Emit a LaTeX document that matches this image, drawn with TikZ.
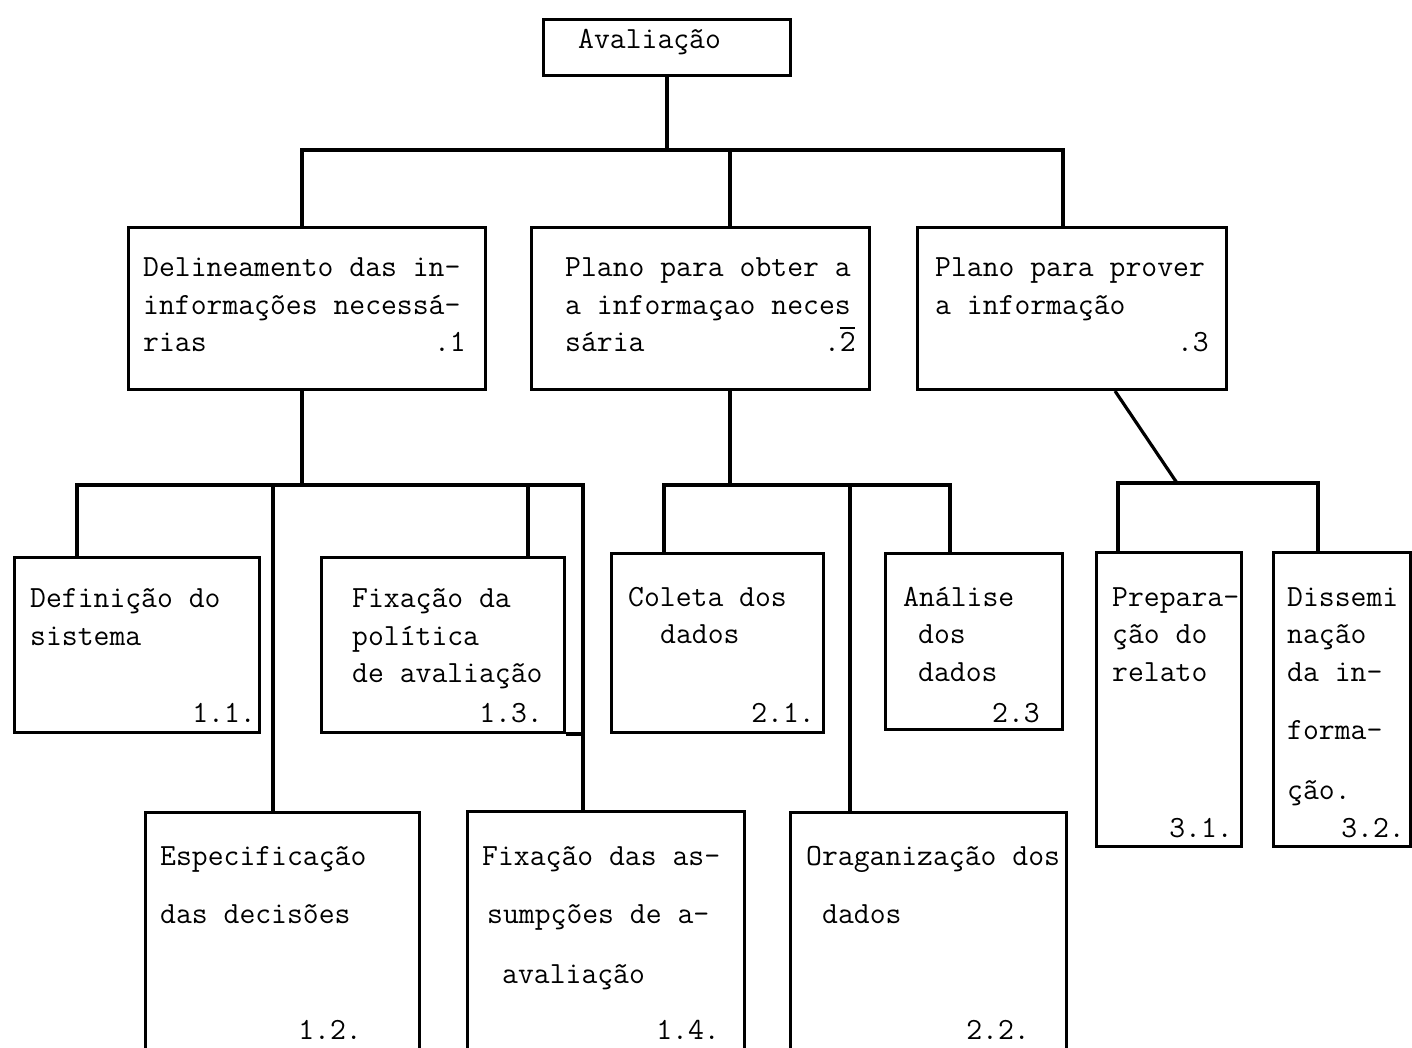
\documentclass[tikz,border=0pt]{standalone}
\usetikzlibrary{calc}
% typewriter face used for every label
\newcommand{\twfont}{\ttfamily\fontsize{30.8}{37}\selectfont}
\begin{document}
\begin{tikzpicture}[x=1pt,y=-1pt,
  box/.style={draw, line width=3pt, rectangle, inner sep=0pt, anchor=north west},
  link/.style={line width=3.2pt},
  ln/.style={anchor=base west, inner sep=0pt, font=\twfont},
  num/.style={anchor=base east, inner sep=0pt, font=\twfont}]

\useasboundingbox (0,0) rectangle (1412,1048);
\fill[white] (0,0) rectangle (1412,1048);
\clip (0,0) rectangle (1412,1048);

% ---------- boxes ----------
\node[box, minimum width=247pt, minimum height=56pt]  (top) at (542,18) {};
\node[box, minimum width=357pt, minimum height=162pt] (b1)  at (127,226) {};
\node[box, minimum width=338pt, minimum height=162pt] (b2)  at (530,226) {};
\node[box, minimum width=309pt, minimum height=162pt] (b3)  at (916,226) {};

\node[box, minimum width=245pt, minimum height=175pt] (c11) at (13,556) {};
\node[box, minimum width=243pt, minimum height=175pt] (c13) at (320,556) {};
\node[box, minimum width=274pt, minimum height=260pt] (c12) at (144,811) {};
\node[box, minimum width=277pt, minimum height=260pt] (c14) at (466,810) {};

\node[box, minimum width=212pt, minimum height=179pt] (c21) at (610,552) {};
\node[box, minimum width=177pt, minimum height=176pt] (c23) at (884,552) {};
\node[box, minimum width=276pt, minimum height=260pt] (c22) at (789,811) {};

\node[box, minimum width=145pt, minimum height=294pt] (c31) at (1095,551) {};
\node[box, minimum width=137pt, minimum height=294pt] (c32) at (1272,551) {};

% ---------- first level ----------
\coordinate (bus0) at (665,150);
\coordinate (p1) at ($(b1.north west)+(175,0)$);
\coordinate (p2) at ($(b2.north west)+(200,0)$);
\coordinate (p3) at ($(b3.north west)+(147,0)$);
\draw[link] (top.south) -- (top.south |- bus0);
\draw[link] (p1) -- (p1 |- bus0) -- (p3 |- bus0) -- (p3);
\draw[link] (p2) -- (p2 |- bus0);

% ---------- branch .1 ----------
\coordinate (bus1) at (302,485);
\coordinate (q1)  at ($(b1.south west)+(175,0)$);
\coordinate (d11) at ($(c11.north west)+(64,0)$);
\coordinate (d13) at ($(c13.north west)+(208,0)$);
\coordinate (d12) at ($(c12.north west)+(129,0)$);
\coordinate (d14) at ($(c14.north west)+(117,0)$);
\draw[link] (q1) -- (q1 |- bus1);
\draw[link] (d11) -- (d11 |- bus1) -- (d14 |- bus1) -- (d14);
\draw[link] (d12) -- (d12 |- bus1);
\draw[link] (d13) -- (d13 |- bus1);
\draw[link] (c13.south east) -- (c13.south east -| d14);

% ---------- branch .2 ----------
\coordinate (bus2) at (730,485);
\coordinate (q2)  at ($(b2.south west)+(200,0)$);
\coordinate (d21) at ($(c21.north west)+(54,0)$);
\coordinate (d23) at ($(c23.north west)+(66,0)$);
\coordinate (d22) at ($(c22.north west)+(61,0)$);
\draw[link] (q2) -- (q2 |- bus2);
\draw[link] (d21) -- (d21 |- bus2) -- (d23 |- bus2) -- (d23);
\draw[link] (d22) -- (d22 |- bus2);

% ---------- branch .3 ----------
\coordinate (bus3) at (1177,483);
\coordinate (q3)  at ($(b3.south west)+(199,0)$);
\coordinate (d31) at ($(c31.north west)+(23,0)$);
\coordinate (d32) at ($(c32.north west)+(46,0)$);
\draw[link] (q3) -- (bus3);
\draw[link] (d31) -- (d31 |- bus3) -- (d32 |- bus3) -- (d32);

% ---------- labels ----------
\node[ln] (tA) at (578,49) {Avaliação};

\node[ln] (t1a) at (143,277) {Delineamento das in-};
\node[ln] (t1b) at (143,314) {informações necessá-};
\node[ln] (t1c) at (143,351) {rias};
\node[num] (n1) at (466,351) {.1};

\node[ln] (t2a) at (565,277) {Plano para obter a};
\node[ln] (t2b) at (565,314) {a informaçao neces};
\node[ln] (t2c) at (565,351) {sária};
\node[num] (n2) at (856,351) {.\rlap{\rule[0.72em]{0.5em}{1.6pt}}2};

\node[ln] (t3a) at (935,277) {Plano para prover};
\node[ln] (t3b) at (935,314) {a informação};
\node[num] (n3) at (1209,351) {.3};

\node[ln] (t11a) at (30,607) {Definição do};
\node[ln] (t11b) at (30,645) {sistema};
\node[num] (n11) at (256,722) {1.1.};

\node[ln] (t13a) at (352,607) {Fixação da};
\node[ln] (t13b) at (352,645) {política};
\node[ln] (t13c) at (352,682) {de avaliação};
\node[num] (n13) at (543,722) {1.3.};

\node[ln] (t12a) at (160,865) {Especificação};
\node[ln] (t12b) at (160,923) {das decisões};
\node[num] (n12) at (362,1039) {1.2.};

\node[ln] (t14a) at (482,865) {Fixação das as-};
\node[ln] (t14b) at (487,923) {sumpções de a-};
\node[ln] (t14c) at (502,983) {avaliação};
\node[num] (n14) at (720,1039) {1.4.};

\node[ln] (t21a) at (628,606) {Coleta dos};
\node[ln] (t21b) at (660,643) {dados};
\node[num] (n21) at (815,722) {2.1.};

\node[ln] (t23a) at (903,606) {Análise};
\node[ln] (t23b) at (918,643) {dos};
\node[ln] (t23c) at (918,681) {dados};
\node[num] (n23) at (1040,722) {2.3};

\node[ln] (t22a) at (806,865) {Oraganização dos};
\node[ln] (t22b) at (822,923) {dados};
\node[num] (n22) at (1030,1039) {2.2.};

\node[ln] (t31a) at (1112,606) {Prepara-};
\node[ln] (t31b) at (1112,643) {ção do};
\node[ln] (t31c) at (1112,681) {relato};
\node[num] (n31) at (1233,837) {3.1.};

\node[ln] (t32a) at (1287,606) {Dissemi};
\node[ln] (t32b) at (1287,643) {nação};
\node[ln] (t32c) at (1287,681) {da in-};
\node[ln] (t32d) at (1287,739) {forma-};
\node[ln] (t32e) at (1287,799) {ção.};
\node[num] (n32) at (1405,837) {3.2.};

\end{tikzpicture}
\end{document}
